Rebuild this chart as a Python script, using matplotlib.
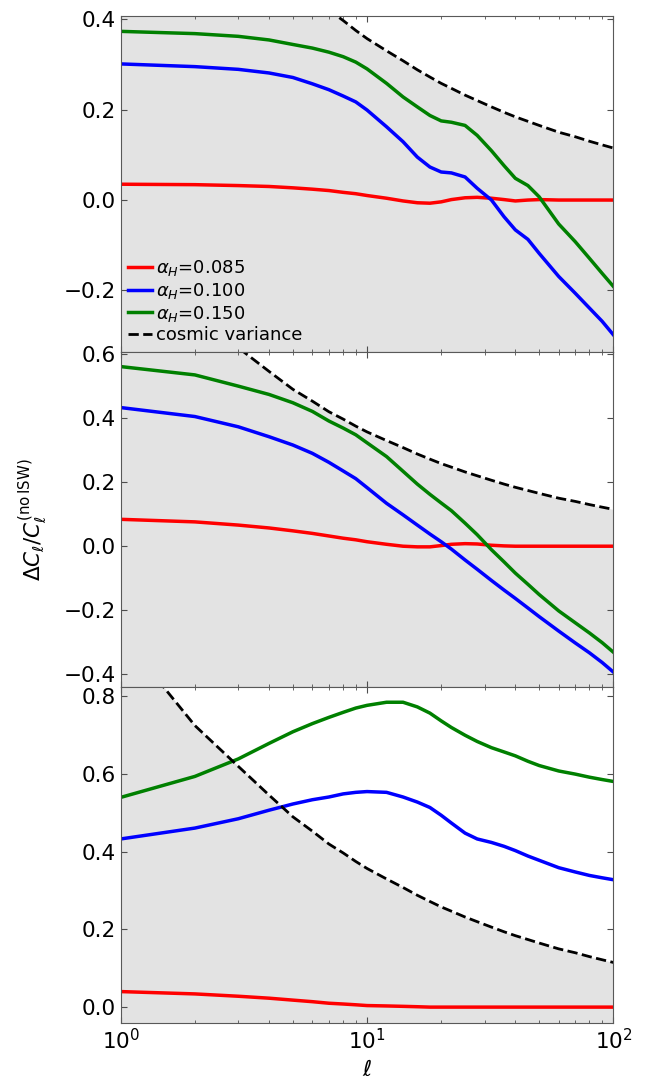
import numpy as np
import matplotlib
matplotlib.use('Agg')
import matplotlib.pyplot as plt

ell = [1, 2, 3, 4, 5, 6, 7, 8, 9, 10, 12, 14, 16, 18, 20, 22, 25, 28, 32, 36,
       40, 45, 50, 60, 70, 80, 90, 100]

# cosmic variance envelope (same in every panel)
cv = [0.96, 0.725, 0.62, 0.546, 0.49, 0.453, 0.42, 0.397, 0.375, 0.357, 0.330,
      0.308, 0.288, 0.272, 0.258, 0.247, 0.232, 0.220, 0.206, 0.194, 0.184,
      0.174, 0.165, 0.150, 0.140, 0.130, 0.122, 0.115]

# top panel
top_085 = [0.035, 0.034, 0.032, 0.030, 0.027, 0.024, 0.021, 0.017, 0.014, 0.010,
           0.004, -0.002, -0.006, -0.007, -0.004, 0.001, 0.005, 0.006, 0.004,
           0.001, -0.002, 0.0, 0.001, 0.0, 0.0, 0.0, 0.0, 0.0]
top_100 = [0.301, 0.295, 0.289, 0.281, 0.271, 0.257, 0.244, 0.230, 0.217, 0.199,
           0.162, 0.129, 0.095, 0.073, 0.062, 0.060, 0.051, 0.026, 0.0, -0.037,
           -0.066, -0.087, -0.118, -0.169, -0.206, -0.239, -0.268, -0.298]
top_150 = [0.373, 0.368, 0.362, 0.354, 0.344, 0.336, 0.327, 0.317, 0.305, 0.290,
           0.258, 0.228, 0.206, 0.187, 0.175, 0.172, 0.165, 0.143, 0.109, 0.076,
           0.048, 0.032, 0.007, -0.053, -0.092, -0.129, -0.162, -0.191]

# middle panel
mid_085 = [0.084, 0.076, 0.066, 0.057, 0.048, 0.040, 0.032, 0.025, 0.020, 0.014,
           0.006, 0.0, -0.002, -0.002, 0.002, 0.006, 0.008, 0.007, 0.003, 0.001,
           0.0, 0.0, 0.0, 0.0, 0.0, 0.0, 0.0, 0.0]
mid_100 = [0.433, 0.405, 0.373, 0.342, 0.316, 0.290, 0.262, 0.235, 0.211, 0.183,
           0.134, 0.098, 0.066, 0.038, 0.014, -0.009, -0.043, -0.072, -0.107,
           -0.137, -0.163, -0.193, -0.220, -0.265, -0.302, -0.333, -0.363, -0.393]
mid_150 = [0.561, 0.535, 0.500, 0.474, 0.448, 0.421, 0.391, 0.369, 0.348, 0.323,
           0.280, 0.234, 0.194, 0.162, 0.135, 0.111, 0.072, 0.036, -0.011, -0.049,
           -0.084, -0.119, -0.151, -0.202, -0.239, -0.271, -0.301, -0.331]

# bottom panel
bot_085 = [0.040, 0.034, 0.028, 0.023, 0.018, 0.014, 0.010, 0.008, 0.006, 0.004,
           0.003, 0.002, 0.001, 0.0, 0.0, 0.0, 0.0, 0.0, 0.0, 0.0, 0.0, 0.0, 0.0,
           0.0, 0.0, 0.0, 0.0, 0.0]
bot_100 = [0.433, 0.461, 0.485, 0.507, 0.523, 0.534, 0.541, 0.549, 0.553, 0.555,
           0.553, 0.541, 0.528, 0.514, 0.494, 0.474, 0.448, 0.433, 0.424, 0.414,
           0.403, 0.389, 0.378, 0.359, 0.348, 0.339, 0.333, 0.328]
bot_150 = [0.540, 0.594, 0.639, 0.679, 0.709, 0.730, 0.746, 0.759, 0.770, 0.777,
           0.785, 0.785, 0.773, 0.757, 0.737, 0.720, 0.700, 0.684, 0.668, 0.657,
           0.647, 0.633, 0.622, 0.608, 0.600, 0.592, 0.586, 0.581]

labels = [r'$\alpha_H$=0.085', r'$\alpha_H$=0.100', r'$\alpha_H$=0.150']
colors = ['#ff0000', '#0000ff', '#008000']

panels = [
    ((top_085, top_100, top_150), (-0.335, 0.407), [-0.2, 0.0, 0.2, 0.4]),
    ((mid_085, mid_100, mid_150), (-0.44, 0.608), [-0.4, -0.2, 0.0, 0.2, 0.4, 0.6]),
    ((bot_085, bot_100, bot_150), (-0.04, 0.824), [0.0, 0.2, 0.4, 0.6, 0.8]),
]

plt.rcParams['xtick.direction'] = 'in'
plt.rcParams['ytick.direction'] = 'in'
plt.rcParams['xtick.top'] = True
plt.rcParams['ytick.right'] = True
plt.rcParams['xtick.major.size'] = 4.5
plt.rcParams['xtick.minor.size'] = 2.5
plt.rcParams['ytick.major.size'] = 4.5
plt.rcParams['xtick.color'] = '0.3'
plt.rcParams['ytick.color'] = '0.3'
plt.rcParams['xtick.labelcolor'] = 'black'
plt.rcParams['ytick.labelcolor'] = 'black'
plt.rcParams['axes.edgecolor'] = '0.35'

fig = plt.figure(figsize=(6.47, 10.8), dpi=100)
left, width, h = 0.1866, 0.7614, 0.3107
bottoms = [0.0531 + 2 * h, 0.0531 + h, 0.0531]

axes = []
for i, ((r, b, g), ylim, yt) in enumerate(panels):
    ax = fig.add_axes([left, bottoms[i], width, h])
    # everything below the cosmic variance curve is shaded
    ax.fill_between(ell, -1, cv, color='0.89', lw=0)
    for ys, c, lab in zip((r, b, g), colors, labels):
        ax.plot(ell, ys, color=c, lw=2.5, label=lab)
    ax.plot(ell, cv, 'k--', lw=2, label='cosmic variance')
    ax.set_xscale('log')
    ax.set_xlim(1, 100)
    ax.set_ylim(*ylim)
    ax.set_yticks(yt)
    ax.tick_params(labelsize=15.5)
    if i < 2:
        ax.tick_params(labelbottom=False)
    axes.append(ax)

axes[0].legend(loc='lower left', frameon=False, fontsize=13, borderaxespad=0.2,
               borderpad=0.2, handlelength=1.35, handletextpad=0.2,
               labelspacing=0.15)
axes[2].set_xlabel(r'$\ell$', fontsize=16, labelpad=5)
fig.text(0.051, 0.519, r'$\Delta C_\ell/C_\ell^{(\mathrm{no\,ISW})}$', rotation=90,
         va='center', ha='center', fontsize=15.5)

fig.savefig('out.png', dpi=100)
